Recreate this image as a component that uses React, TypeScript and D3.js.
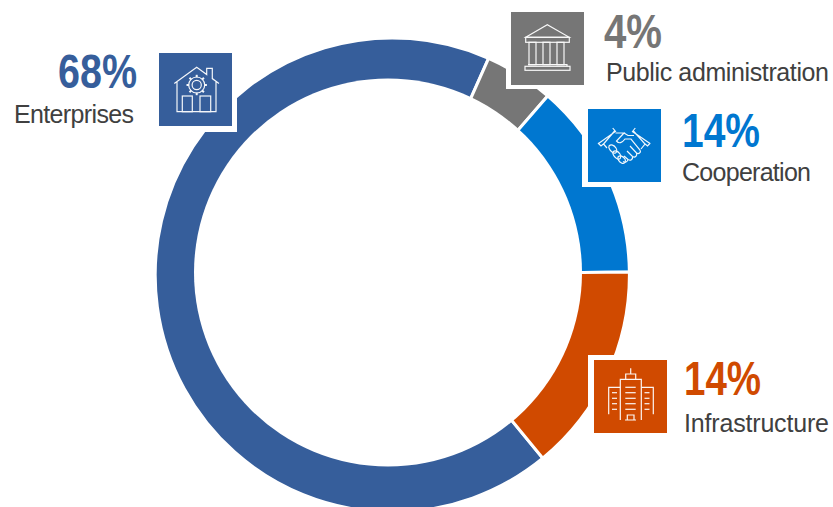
import React from "react";
import * as d3 from "d3";

const WIDTH = 833;
const HEIGHT = 507;

const categories = ["Enterprises", "Public administration", "Cooperation", "Infrastructure"];
const percentLabels = ["68%", "4%", "14%", "14%"];
// Shares as drawn in the picture, clockwise from the Enterprises start.
const drawnShares = [67.6, 4.72, 13.42, 14.26];
const colors = ["#365e9b", "#767676", "#0077d0", "#d04a00"];
const firstSliceStartDeg = 140.6;

// The ring's hole sits slightly off-centre from its outer edge in the reference.
// r includes half of the white separator stroke, which trims the visible edge.
const OUTER = { cx: 392.3, cy: 275, r: 237.1 };
const HOLE = { cx: 388, cy: 272.5, r: 194 };

type Callout = {
  box: [number, number];
  notch: [number, number, number, number];
  pct: [number, number, number];
  name: [number, number, number];
};

const callouts: Callout[] = [
  { box: [159, 53], notch: [150, 44, 87, 88], pct: [58, 88, 79], name: [14, 122.5, 120] },
  { box: [511, 12], notch: [506, 4, 86, 85], pct: [604, 48, 58], name: [606, 80.5, 223] },
  { box: [588, 109], notch: [582, 100, 88, 87], pct: [682, 147, 78], name: [682, 181, 129] },
  { box: [594, 360], notch: [588, 355, 88, 88], pct: [684, 395, 77], name: [684, 432, 145] },
];

const BOX = 73;
const FONT = "'Liberation Sans Narrow', 'Liberation Sans', sans-serif";

function HouseIcon() {
  const teeth = d3.range(8).map((i) => {
    const a = (i * Math.PI) / 4;
    return (
      <line key={i} x1={37.7 + 7.6 * Math.cos(a)} y1={32 + 7.6 * Math.sin(a)} x2={37.7 + 10.2 * Math.cos(a)} y2={32 + 10.2 * Math.sin(a)} strokeWidth={2} />
    );
  });
  return (
    <g>
      <path d="M15.3 30.5 L37.7 14.3 L47.7 21.5 V15.3 H53.3 V25.6 L60 30.5 M18 28.5 V58.7 H57 V28.5" />
      <rect x={23.3} y={43} width={10} height={15.7} />
      <rect x={41} y={43} width={10.7} height={15.7} />
      <circle cx={37.7} cy={32} r={8} fill="#365e9b" />
      <circle cx={37.7} cy={32} r={4.6} />
      {teeth}
    </g>
  );
}

function BankIcon() {
  return (
    <g>
      <path d="M14.7 25.3 L36.3 12.7 L58.3 25.3 Z" />
      <rect x={14.7} y={25.3} width={43.6} height={5} />
      <rect x={18} y={30.3} width={7} height={22.4} />
      <rect x={32} y={30.3} width={7} height={22.4} />
      <rect x={46} y={30.3} width={7} height={22.4} />
      <path d="M17 52.7 H56 V54.3" />
      <rect x={14} y={54.3} width={45} height={4} />
    </g>
  );
}

function HandshakeIcon() {
  return (
    <g>
      <path d="M24.7 19 L27.5 22.5 L10.5 34.5 M10 34 L13 37 L16 34.5 M27 21.5 L15.5 35 L19 39" />
      <path d="M47.3 19 L44.5 22.5 L62 34.5 M62.3 34 L59.5 37 L56.5 34.5 M45 21.5 L57 35 L53 40" />
      <path d="M27.5 24 H36 L28.5 32 C31 35 34 34 37 30 H43 L52 41 C53.5 43.5 50.5 45.5 48.5 44 L42 37" />
      <path d="M48.5 44 C49.5 47 47 49 44.5 47.5 L39 42 M44.5 47.5 C45 50.5 42.5 52 40 50.5 L36 47 M40 50.5 C39.5 53 37 54 35 52.5" />
      <path d="M36 24 L40 26.5 H46" />
      <path d="M21 37 C23 35 26 36 28 39 C30 42 28 45 25.5 44 C23 43 20 39 21 37 Z" />
      <path d="M25 43 C27 41 30 42 32 45 C34 48 32 51 29.5 50 C27 49 24 45 25 43 Z" />
      <path d="M30 48 C32 46 35 47 37 50 C38.5 53 36 55.5 33.5 54 C31.5 53 29 50 30 48 Z" />
    </g>
  );
}

function BuildingIcon() {
  const main = [27.3, 32.7, 38.3, 43.7, 49.3];
  const side = [32.7, 38.3, 43.7, 49.3];
  return (
    <g>
      <path d="M26.3 60 V19.3 H47.3 V60" />
      <path d="M31.7 19.3 V14 H41.7 V19.3 M36.7 14 V8.3" />
      <path d="M26.3 27.3 H14.7 V54.3 M47.3 27.3 H59.3 V54.3" />
      <path d="M33.3 60 V55 H40 V60 M31 60 H42" />
      {main.map((y) => <line key={y} x1={31.3} x2={41.7} y1={y} y2={y} />)}
      {side.map((y) => <line key={"l" + y} x1={18} x2={23} y1={y} y2={y} />)}
      {side.map((y) => <line key={"r" + y} x1={50.5} x2={55.5} y1={y} y2={y} />)}
    </g>
  );
}

const icons = [HouseIcon, BankIcon, HandshakeIcon, BuildingIcon];

export default function App() {
  const start = (firstSliceStartDeg * Math.PI) / 180;
  const pie = d3.pie<number>().sort(null).value((d) => d).startAngle(start).endAngle(start + Math.PI * 2);
  const arc = d3.arc<d3.PieArcDatum<number>>().innerRadius(OUTER.r - 70).outerRadius(OUTER.r);
  const slices = pie(drawnShares);

  return (
    <svg
      width={WIDTH}
      height={HEIGHT}
      viewBox={`0 0 ${WIDTH} ${HEIGHT}`}
      style={{ position: "absolute", left: 0, top: 0, background: "#fff" }}
    >
      <g transform={`translate(${OUTER.cx},${OUTER.cy})`}>
        {slices.map((s, i) => (
          <path key={categories[i]} d={arc(s) || ""} fill={colors[i]} stroke="#fff" strokeWidth={3} />
        ))}
      </g>
      <circle cx={HOLE.cx} cy={HOLE.cy} r={HOLE.r} fill="#fff" />
      {callouts.map((c, i) => {
        const Icon = icons[i];
        return (
          <g key={categories[i]}>
            <rect x={c.notch[0]} y={c.notch[1]} width={c.notch[2]} height={c.notch[3]} fill="#fff" />
            <rect x={c.box[0]} y={c.box[1]} width={BOX} height={BOX} fill={colors[i]} />
            <g transform={`translate(${c.box[0]},${c.box[1]})`} fill="none" stroke="#fff" strokeWidth={1.2} opacity={0.95}>
              <Icon />
            </g>
            <text
              x={c.pct[0]}
              y={c.pct[1]}
              textLength={c.pct[2]}
              lengthAdjust="spacingAndGlyphs"
              fontFamily={FONT}
              fontWeight={700}
              fontSize={48}
              fill={colors[i]}
            >
              {percentLabels[i]}
            </text>
            <text
              x={c.name[0]}
              y={c.name[1]}
              textLength={c.name[2]}
              lengthAdjust="spacing"
              fontFamily={FONT}
              fontSize={25}
              fill="#404040"
            >
              {categories[i]}
            </text>
          </g>
        );
      })}
    </svg>
  );
}
